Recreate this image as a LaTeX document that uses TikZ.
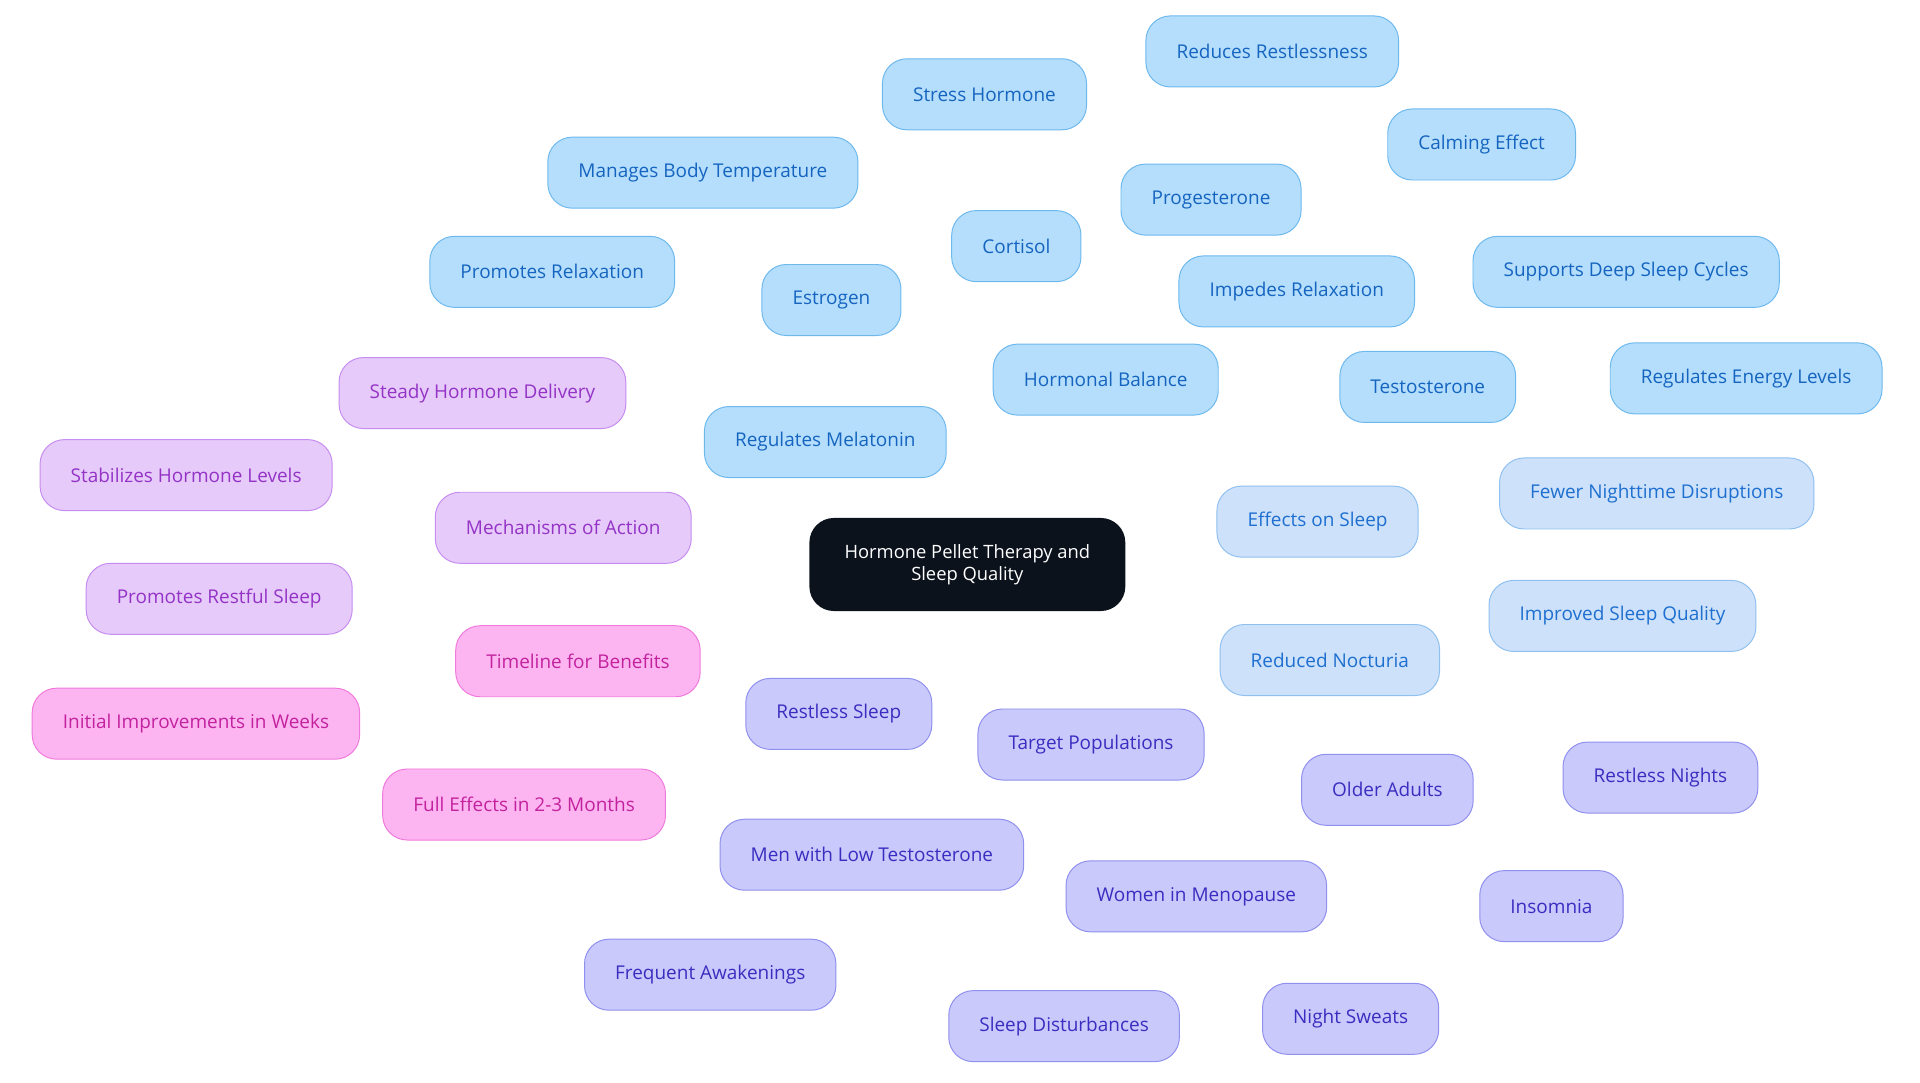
\documentclass[tikz,border=0pt]{standalone}
\usepackage{fontspec}
\setmainfont{Open Sans}
\usetikzlibrary{backgrounds}
\definecolor{bF}{HTML}{B5DEFC}\definecolor{bD}{HTML}{6DB9EE}\definecolor{bT}{HTML}{1565C0}
\definecolor{lF}{HTML}{CDE2FA}\definecolor{lD}{HTML}{90C0F0}\definecolor{lT}{HTML}{1E6FD0}
\definecolor{pF}{HTML}{E6CBFA}\definecolor{pD}{HTML}{C68CF0}\definecolor{pT}{HTML}{9433C6}
\definecolor{kF}{HTML}{FDB5F1}\definecolor{kD}{HTML}{F07ADC}\definecolor{kT}{HTML}{C2229E}
\definecolor{iF}{HTML}{C9C9FC}\definecolor{iD}{HTML}{9090EE}\definecolor{iT}{HTML}{3A2EC0}
\definecolor{cF}{HTML}{0B121C}
\tikzset{
 x=1pt,y=-1pt,
 nd/.style={rounded corners=20pt,minimum height=58pt,inner xsep=25pt,font=\fontsize{15.5}{18}\selectfont,line width=0.8pt},
 bl/.style={nd,fill=bF,draw=bD,text=bT},
 lb/.style={nd,fill=lF,draw=lD,text=lT},
 pu/.style={nd,fill=pF,draw=pD,text=pT},
 pk/.style={nd,fill=kF,draw=kD,text=kT},
 ig/.style={nd,fill=iF,draw=iD,text=iT},
 eb/.style={bD,line width=2pt},el/.style={lD,line width=2pt},ep/.style={pD,line width=2pt},
 ek/.style={kD,line width=2pt},ei/.style={iD,line width=2pt}}
\begin{document}
\begin{tikzpicture}
\useasboundingbox[fill=white] (0,0) rectangle (1568,884);
\node[nd,fill=cF,text=white,minimum width=258pt,minimum height=76pt,align=center,font=\fontsize{15}{18}\selectfont] (c) at (790,461) {Hormone Pellet Therapy and\\Sleep Quality};
\node[bl] (hb) at (903,310) {Hormonal Balance};
\node[bl] (es) at (679,245) {Estrogen};
\node[bl] (co) at (830,201) {Cortisol};
\node[bl] (pr) at (989,163) {Progesterone};
\node[bl] (te) at (1166,316) {Testosterone};
\node[bl] (mbt) at (574,141) {Manages Body Temperature};
\node[bl] (prx) at (451,222) {Promotes Relaxation};
\node[bl] (rm) at (674,361) {Regulates Melatonin};
\node[bl] (sh) at (804,77) {Stress Hormone};
\node[bl] (rr) at (1039,42) {Reduces Restlessness};
\node[bl] (ce) at (1210,118) {Calming Effect};
\node[bl] (ir) at (1059,238) {Impedes Relaxation};
\node[bl] (sd) at (1328,222) {Supports Deep Sleep Cycles};
\node[bl] (re) at (1426,309) {Regulates Energy Levels};
\node[lb] (eos) at (1076,426) {Effects on Sleep};
\node[lb] (fn) at (1353,403) {Fewer Nighttime Disruptions};
\node[lb] (isq) at (1325,503) {Improved Sleep Quality};
\node[lb] (rn) at (1086,539) {Reduced Nocturia};
\node[pu] (ma) at (460,431) {Mechanisms of Action};
\node[pu] (shd) at (394,321) {Steady Hormone Delivery};
\node[pu] (shl) at (152,388) {Stabilizes Hormone Levels};
\node[pu] (prs) at (179,489) {Promotes Restful Sleep};
\node[pk] (tb) at (472,540) {Timeline for Benefits};
\node[pk] (iiw) at (160,591) {Initial Improvements in Weeks};
\node[pk] (fe) at (428,657) {Full Effects in 2-3 Months};
\node[ig] (tp) at (891,608) {Target Populations};
\node[ig] (rsl) at (685,583) {Restless Sleep};
\node[ig] (mlt) at (712,698) {Men with Low Testosterone};
\node[ig] (fa) at (580,796) {Frequent Awakenings};
\node[ig] (oa) at (1133,645) {Older Adults};
\node[ig] (rnt) at (1356,635) {Restless Nights};
\node[ig] (ins) at (1267,740) {Insomnia};
\node[ig] (wm) at (977,732) {Women in Menopause};
\node[ig] (sdi) at (869,838) {Sleep Disturbances};
\node[ig] (ns) at (1103,832) {Night Sweats};
\begin{scope}[on background layer]
\draw[eb] (c.center)--(hb.center);
\foreach \a/\b in {hb/es,hb/co,hb/pr,hb/te,es/mbt,es/prx,es/rm,co/sh,co/ir,pr/rr,pr/ce,te/sd,te/re}\draw[eb] (\a.center)--(\b.center);
\foreach \a/\b in {c/eos,eos/fn,eos/isq,eos/rn}\draw[el] (\a.center)--(\b.center);
\foreach \a/\b in {c/ma,ma/shd,ma/shl,ma/prs}\draw[ep] (\a.center)--(\b.center);
\foreach \a/\b in {c/tb,tb/iiw,tb/fe}\draw[ek] (\a.center)--(\b.center);
\foreach \a/\b in {c/tp,tp/mlt,mlt/rsl,mlt/fa,tp/oa,oa/rnt,oa/ins,tp/wm,wm/sdi,wm/ns}\draw[ei] (\a.center)--(\b.center);
\end{scope}
\end{tikzpicture}
\end{document}
